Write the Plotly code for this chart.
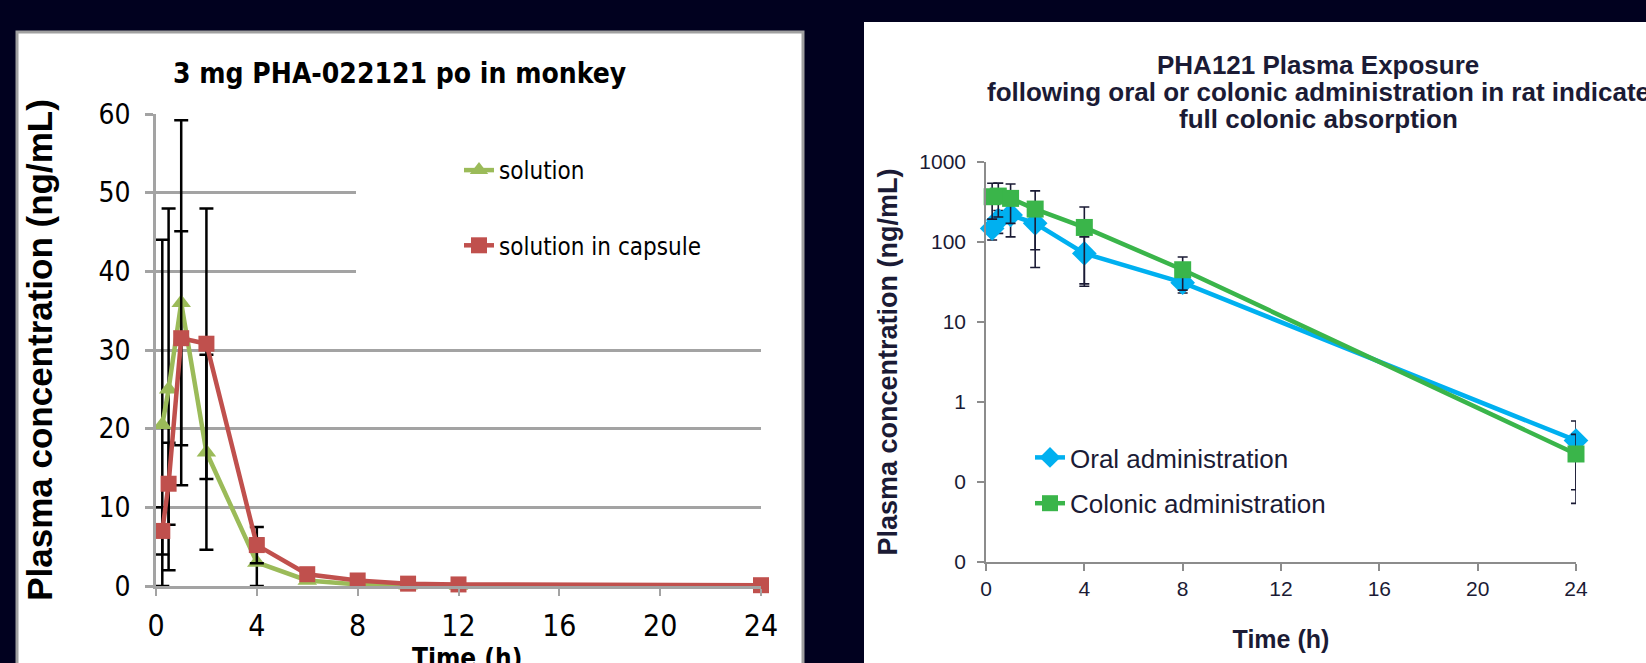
import plotly.graph_objects as go

W, H = 1646, 663

# ---------------- data: left panel (monkey, linear axis) ----------------
monkey_time_solution = [0.25, 0.5, 1, 2, 4, 6, 8, 10, 12]
monkey_solution = [20.5, 25, 36, 17, 3, 0.7, 0.2, 0.1, 0.05]
monkey_solution_sd = [23.5, 23, 23.2, 12.4, 3.0, 0, 0, 0, 0]

monkey_time_capsule = [0.25, 0.5, 1, 2, 4, 6, 8, 10, 12, 24]
monkey_capsule = [7, 13, 31.5, 30.8, 5.2, 1.5, 0.7, 0.3, 0.2, 0.1]
monkey_capsule_sd = [3, 5.2, 13.6, 17.2, 2.3, 0, 0, 0, 0, 0]

monkey_y_ticks = [0, 10, 20, 30, 40, 50, 60]

# ---------------- data: right panel (rat, log axis) ----------------
rat_time = [0.25, 0.5, 1, 2, 4, 8, 24]
rat_oral = [148, 188, 218, 171, 72, 31, 0.33]
rat_oral_sd = [42, 60, 102, 123, 44, 8, 0.25]
rat_colonic = [368, 375, 351, 258, 152, 45, 0.224]
rat_colonic_sd = [175, 170, 180, 178, 122, 20, 0.17]

rat_y_tickvals = [0.01, 0.1, 1, 10, 100, 1000]
rat_y_ticktext = ["0", "0", "1", "10", "100", "1000"]

x_ticks = [0, 4, 8, 12, 16, 20, 24]

# ---------------- styling ----------------
NAVY_BG = "#01011F"
NARROW = "Liberation Sans Narrow, Arial Narrow, DejaVu Sans Condensed, sans-serif"
ARIAL = "Liberation Sans, Arial, Helvetica, sans-serif"
TXT2 = "#1B1B35"
GRID = "#A3A3A3"
AX2 = "#8C8C8C"


def px_x(x):
    return x / W


def px_y(y):
    return 1 - y / H


def clip_minus(vals, sd):
    # lower error bar as drawn: it cannot extend below the zero axis
    return [min(s, v) for s, v in zip(sd, vals)]


fig = go.Figure()

# left panel traces
fig.add_trace(go.Scatter(
    x=monkey_time_solution, y=monkey_solution, name="solution",
    mode="lines+markers", xaxis="x", yaxis="y", legend="legend", legendgroup="a",
    line=dict(color="#9BBB59", width=4.5),
    marker=dict(symbol="triangle-up", size=17, color="#9BBB59"),
    error_y=dict(type="data", array=monkey_solution_sd,
                 arrayminus=clip_minus(monkey_solution, monkey_solution_sd),
                 color="black", thickness=2.5, width=7),
    cliponaxis=False,
))
fig.add_trace(go.Scatter(
    x=monkey_time_capsule, y=monkey_capsule, name="solution in capsule",
    mode="lines+markers", xaxis="x", yaxis="y", legend="legend", legendgroup="b",
    line=dict(color="#C0504D", width=4.5),
    marker=dict(symbol="square", size=16, color="#C0504D"),
    error_y=dict(type="data", array=monkey_capsule_sd,
                 arrayminus=clip_minus(monkey_capsule, monkey_capsule_sd),
                 color="black", thickness=2.5, width=7),
    cliponaxis=False,
))

# right panel traces
fig.add_trace(go.Scatter(
    x=rat_time, y=rat_oral, name="Oral administration",
    mode="lines+markers", xaxis="x2", yaxis="y2", legend="legend2", legendgroup="c",
    line=dict(color="#00B0F0", width=4.5),
    marker=dict(symbol="diamond", size=19, color="#00B0F0"),
    error_y=dict(type="data", array=rat_oral_sd, color=TXT2, thickness=1.6, width=5),
    cliponaxis=False,
))
fig.add_trace(go.Scatter(
    x=rat_time, y=rat_colonic, name="Colonic administration",
    mode="lines+markers", xaxis="x2", yaxis="y2", legend="legend2", legendgroup="d",
    line=dict(color="#3AB54A", width=4.5),
    marker=dict(symbol="square", size=17, color="#3AB54A"),
    error_y=dict(type="data", array=rat_colonic_sd, color=TXT2, thickness=1.6, width=5),
    cliponaxis=False,
))

shapes = [
    # left white panel with grey border
    dict(type="rect", xref="paper", yref="paper", layer="below",
         x0=px_x(17), x1=px_x(803), y0=px_y(H + 10), y1=px_y(32),
         fillcolor="white", line=dict(color="#A0A0A0", width=3)),
    # right white panel
    dict(type="rect", xref="paper", yref="paper", layer="below",
         x0=px_x(864), x1=px_x(W + 10), y0=px_y(H + 10), y1=px_y(22),
         fillcolor="white", line=dict(width=0)),
    # white legend area hiding the gridlines behind the left legend (no data there)
    dict(type="rect", xref="paper", yref="paper", layer="above",
         x0=px_x(356), x1=px_x(764), y0=px_y(300), y1=px_y(128),
         fillcolor="white", line=dict(width=0)),
]

annotations = [
    dict(text="3 mg PHA-022121 po in monkey", x=px_x(399), y=px_y(73),
         xref="paper", yref="paper", showarrow=False, xanchor="center", yanchor="middle",
         font=dict(family=NARROW, size=28, color="black", weight="bold")),
    dict(text="Time (h)", x=px_x(467), y=px_y(641),
         xref="paper", yref="paper", showarrow=False, xanchor="center", yanchor="top",
         font=dict(family=NARROW, size=26, color="black", weight="bold")),
    dict(text="PHA121 Plasma Exposure", x=px_x(1318), y=px_y(65),
         xref="paper", yref="paper", showarrow=False, xanchor="center", yanchor="middle",
         font=dict(family=ARIAL, size=26, color=TXT2, weight="bold")),
    dict(text="following oral or colonic administration in rat indicate", x=px_x(1318), y=px_y(92),
         xref="paper", yref="paper", showarrow=False, xanchor="center", yanchor="middle",
         font=dict(family=ARIAL, size=26, color=TXT2, weight="bold")),
    dict(text="full colonic absorption", x=px_x(1318), y=px_y(119),
         xref="paper", yref="paper", showarrow=False, xanchor="center", yanchor="middle",
         font=dict(family=ARIAL, size=26, color=TXT2, weight="bold")),
]

fig.update_layout(
    width=W, height=H,
    autosize=False,
    margin=dict(l=0, r=0, t=0, b=0, pad=0, autoexpand=False),
    paper_bgcolor=NAVY_BG,
    plot_bgcolor="rgba(0,0,0,0)",
    shapes=shapes,
    annotations=annotations,
    xaxis=dict(
        domain=[px_x(156), px_x(761)], range=[0, 24], anchor="y", automargin=False,
        tickmode="array", tickvals=x_ticks,
        showgrid=False, zeroline=False,
        showline=True, linecolor=GRID, linewidth=2.5,
        ticks="outside", ticklen=7, tickwidth=2, tickcolor=GRID,
        tickfont=dict(family=NARROW, size=30, color="black"),
        ticklabelstandoff=4,
    ),
    yaxis=dict(
        domain=[px_y(586), px_y(114)], range=[0, 60], anchor="x", automargin=False,
        tickmode="array", tickvals=monkey_y_ticks,
        showgrid=True, gridcolor=GRID, gridwidth=2.5, zeroline=False,
        showline=True, linecolor=GRID, linewidth=2.5,
        ticks="outside", ticklen=8, tickwidth=2.5, tickcolor=GRID,
        tickfont=dict(family=NARROW, size=28, color="black"),
        ticklabelstandoff=9,
        title=dict(text="Plasma concentration (ng/mL)", standoff=36,
                   font=dict(family=ARIAL, size=35, color="black", weight="bold")),
    ),
    xaxis2=dict(
        domain=[px_x(986), px_x(1576)], range=[0, 24], anchor="y2", automargin=False,
        tickmode="array", tickvals=x_ticks,
        showgrid=False, zeroline=False,
        showline=True, linecolor=AX2, linewidth=1.5,
        ticks="outside", ticklen=7, tickwidth=1.5, tickcolor=AX2,
        tickfont=dict(family=ARIAL, size=21, color=TXT2),
        ticklabelstandoff=0,
        title=dict(text="Time (h)", standoff=32,
                   font=dict(family=ARIAL, size=25, color=TXT2, weight="bold")),
    ),
    yaxis2=dict(
        domain=[px_y(562), px_y(162)], type="log", range=[-2, 3], anchor="x2", automargin=False,
        tickmode="array", tickvals=rat_y_tickvals, ticktext=rat_y_ticktext,
        showgrid=False, zeroline=False,
        showline=True, linecolor=AX2, linewidth=1.5,
        ticks="outside", ticklen=7, tickwidth=1.5, tickcolor=AX2,
        tickfont=dict(family=ARIAL, size=21, color=TXT2),
        ticklabelstandoff=7,
        title=dict(text="Plasma concentration (ng/mL)", standoff=14,
                   font=dict(family=ARIAL, size=27, color=TXT2, weight="bold")),
    ),
    legend=dict(
        x=px_x(459), y=px_y(148), xanchor="left", yanchor="top",
        bgcolor="white", borderwidth=0, tracegroupgap=41,
        font=dict(family=NARROW, size=24, color="black"),
    ),
    legend2=dict(
        x=px_x(1030), y=px_y(434), xanchor="left", yanchor="top",
        bgcolor="rgba(0,0,0,0)", borderwidth=0, tracegroupgap=9,
        font=dict(family=ARIAL, size=26, color=TXT2),
    ),
    showlegend=True,
)

fig.write_html(
    "out.html",
    config={"displayModeBar": False, "responsive": False},
    post_script=("document.body.style.margin='0';"
                 "document.body.style.background='" + NAVY_BG + "';"
                 "document.body.style.overflow='hidden';"),
)
